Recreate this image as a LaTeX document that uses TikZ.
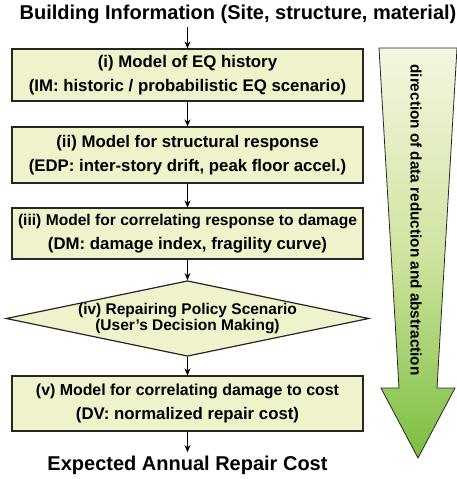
\documentclass[tikz,border=0pt]{standalone}
\usepackage{fontspec}
\setmainfont{Liberation Sans}
\usetikzlibrary{arrows.meta,shapes.geometric,calc}
\definecolor{boxfill}{RGB}{240,242,204}
\definecolor{arrowtop}{RGB}{244,246,224}
\definecolor{arrowmid}{RGB}{208,228,160}
\definecolor{arrowbot}{RGB}{122,190,62}

\begin{document}
\begin{tikzpicture}[x=1pt,y=-1pt,
  model/.style={draw=black!85,line width=1.2pt,fill=boxfill,
    minimum width=351pt,inner sep=0pt,align=center,
    font=\bfseries\fontsize{16.8}{23.5}\selectfont},
  policy/.style={diamond,draw=black!85,line width=1.2pt,fill=boxfill,
    aspect=4.8,minimum width=351pt,minimum height=73pt,inner sep=0pt,
    align=center,font=\bfseries\fontsize{15.5}{15.5}\selectfont},
  endtext/.style={font=\bfseries\fontsize{20}{22}\selectfont},
  flow/.style={-{Stealth[length=7pt,width=6pt]},line width=1pt}]
  \useasboundingbox (0,0) rectangle (456,479);

  % direction arrow
  \draw[black!85,line width=0.8pt,top color=arrowtop,bottom color=arrowbot,
    middle color=arrowmid]
    (379,48) -- (457,48) -- (437,388) -- (455,388) -- (418,458)
    -- (381,388) -- (399,388) -- cycle;
  \node[rotate=-90,font=\bfseries\fontsize{15.3}{17}\selectfont] (dir) at (416,220)
    {direction of data reduction and abstraction};

  \node[endtext] (info) at (238,14) {Building Information (Site, structure, material)};
  \node[model,minimum height=52pt] (eq) at (187.5,75)
    {(i) Model of EQ history\\(IM: historic / probabilistic EQ scenario)};
  \node[model,minimum height=56pt] (resp) at (187.5,155)
    {(ii) Model for structural response\\(EDP: inter-story drift, peak floor accel.)};
  \node[model,minimum height=51pt] (dmg) at (187.5,233.5)
    {{\fontsize{15.6}{23.5}\selectfont(iii) Model for correlating response to damage}\\(DM: damage index, fragility curve)};
  \node[policy] (pol) at (187.5,318.5)
    {(iv) Repairing Policy Scenario\\(User's Decision Making)};
  \node[model,minimum height=55pt] (cost) at (187.5,403.5)
    {{\fontsize{15.9}{23.5}\selectfont(v) Model for correlating damage to cost}\\(DV: normalized repair cost)};
  \node[endtext] (annual) at (187.5,465) {Expected Annual Repair Cost};

  \draw[flow] (eq.north |- info.south) -- (eq.north);
  \draw[flow] (eq) -- (resp);
  \draw[flow] (resp) -- (dmg);
  \draw[flow] (dmg) -- (pol);
  \draw[flow] (pol) -- (cost);
  \draw[flow] (cost) -- (annual);
\end{tikzpicture}
\end{document}
